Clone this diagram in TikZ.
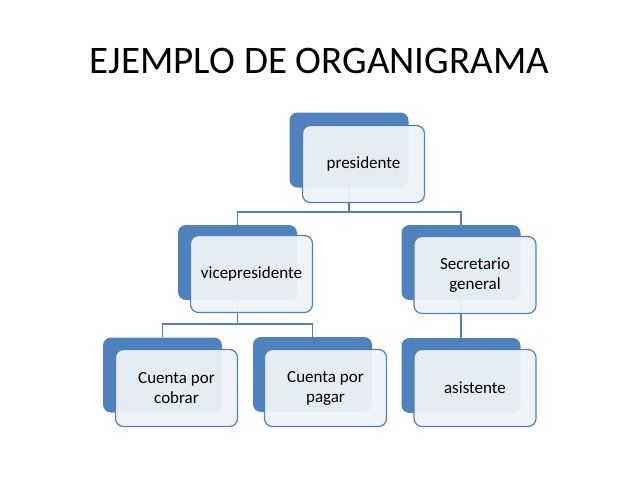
\documentclass[tikz,border=0pt]{standalone}
\usepackage{fontspec}
\setmainfont{Carlito}
\definecolor{darkblue}{HTML}{4F81BD}
\definecolor{frontfill}{HTML}{EEF2F8}
\definecolor{linecol}{HTML}{4F81BD}
\begin{document}
\begin{tikzpicture}[x=1pt,y=-1pt,
  darkbox/.style={fill=darkblue, rounded corners=8pt, minimum width=119pt, minimum height=75pt, inner sep=0pt},
  frontbox/.style={fill=frontfill, fill opacity=0.95, text opacity=1, draw=darkblue, draw opacity=1, line width=1.2pt, rounded corners=8pt, minimum width=122pt, minimum height=77pt, inner sep=0pt, align=center, font=\fontsize{17}{20}\selectfont},
  conn/.style={draw=linecol, line width=1.4pt}]
\useasboundingbox (0,0) rectangle (638,479);
\node[anchor=base, font=\fontsize{39}{44}\selectfont] (title) at (319.5,73) {EJEMPLO DE ORGANIGRAMA};
% dark boxes
\node[darkbox] (pd) at (349,150) {};
\node[darkbox] (vd) at (237.5,262.5) {};
\node[darkbox] (sd) at (461,262.5) {};
\node[darkbox] (ad) at (461,375.5) {};
\node[darkbox] (cd) at (162.5,375) {};
\node[darkbox] (gd) at (312.5,374.5) {};
% connectors
\coordinate (b1) at (349,212);
\coordinate (b2) at (237.5,324);
\draw[conn] (pd.south) -- (b1);
\draw[conn] (vd.north) |- (b1) -| (sd.north);
\draw[conn] (vd.south) -- (b2);
\draw[conn] (cd.north) |- (b2) -| (gd.north);
\draw[conn] (sd.south) -- (ad.north);
% front boxes
\node[frontbox] (pf) at (363.5,164) {presidente};
\node[frontbox] (vf) at (251.5,274) {vicepresidente};
\node[frontbox] (sf) at (475,275) {Secretario\\general};
\node[frontbox] (af) at (475,388) {asistente};
\node[frontbox] (cf) at (176.5,388) {Cuenta por\\cobrar};
\node[frontbox] (gf) at (325.5,388) {Cuenta por\\pagar};
\end{tikzpicture}
\end{document}
